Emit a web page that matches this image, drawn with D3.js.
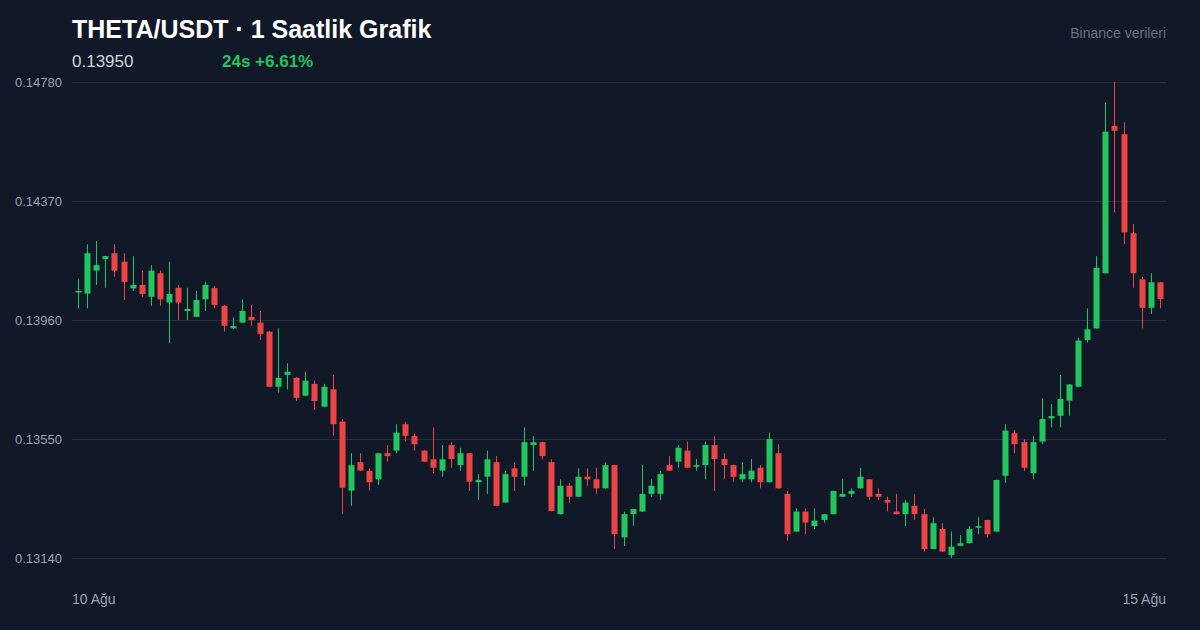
<!DOCTYPE html>
<html><head><meta charset="utf-8">
<script src="https://cdn.jsdelivr.net/npm/d3@7"></script>
<style>
html,body{margin:0;padding:0;background:#111827;}
svg{display:block;font-family:"Liberation Sans",Arial,Helvetica,sans-serif;}
</style></head>
<body><svg id="c" width="1200" height="630"></svg>
<script>
const title = "THETA/USDT · 1 Saatlik Grafik";
const lastPrice = "0.13950";
const change = "24s +6.61%";
const source = "Binance verileri";
const xLabels = ["10 Ağu", "15 Ağu"];
const yTicks = [0.13140, 0.13550, 0.13960, 0.14370, 0.14780];

const open = [
0.14055,0.14051,0.14130,0.14170,0.14190,0.14161,0.14069,0.14081,0.14040,0.14121,
0.14020,0.14071,0.13991,0.13971,0.14031,0.14070,0.14009,0.13931,0.13951,0.13971,
0.13951,0.13920,0.13730,0.13771,0.13761,0.13699,0.13740,0.13661,0.13721,0.13610,
0.13372,0.13470,0.13440,0.13411,0.13501,0.13510,0.13601,0.13560,0.13510,0.13480,
0.13441,0.13529,0.13460,0.13501,0.13401,0.13420,0.13470,0.13331,0.13449,0.13420,
0.13529,0.13539,0.13470,0.13291,0.13389,0.13351,0.13420,0.13411,0.13380,0.13460,
0.13211,0.13291,0.13300,0.13361,0.13361,0.13460,0.13472,0.13510,0.13454,0.13460,
0.13529,0.13481,0.13460,0.13411,0.13411,0.13451,0.13401,0.13501,0.13361,0.13231,
0.13300,0.13250,0.13271,0.13291,0.13351,0.13361,0.13380,0.13411,0.13361,0.13340,
0.13300,0.13291,0.13320,0.13291,0.13171,0.13240,0.13150,0.13182,0.13191,0.13244,
0.13271,0.13231,0.13423,0.13570,0.13539,0.13432,0.13541,0.13621,0.13630,0.13682,
0.13730,0.13891,0.13931,0.14121,0.14629,0.14600,0.14259,0.14100,0.14002,0.14090];

const high = [
0.14100,0.14221,0.14232,0.14181,0.14221,0.14190,0.14180,0.14130,0.14149,0.14130,
0.14161,0.14081,0.14071,0.14060,0.14092,0.14077,0.14012,0.13969,0.14031,0.14012,
0.13991,0.13922,0.13931,0.13811,0.13763,0.13782,0.13751,0.13740,0.13771,0.13619,
0.13501,0.13501,0.13449,0.13502,0.13529,0.13601,0.13610,0.13570,0.13511,0.13590,
0.13529,0.13539,0.13520,0.13502,0.13429,0.13510,0.13491,0.13440,0.13470,0.13590,
0.13560,0.13540,0.13480,0.13411,0.13399,0.13449,0.13449,0.13451,0.13470,0.13461,
0.13300,0.13310,0.13460,0.13411,0.13440,0.13491,0.13529,0.13541,0.13481,0.13541,
0.13560,0.13501,0.13461,0.13470,0.13481,0.13460,0.13572,0.13532,0.13371,0.13311,
0.13311,0.13311,0.13292,0.13372,0.13411,0.13380,0.13451,0.13412,0.13380,0.13351,
0.13361,0.13340,0.13361,0.13309,0.13280,0.13260,0.13231,0.13219,0.13250,0.13280,
0.13272,0.13410,0.13601,0.13581,0.13549,0.13560,0.13690,0.13670,0.13771,0.13739,
0.13899,0.14000,0.14180,0.14710,0.14780,0.14641,0.14291,0.14109,0.14121,0.14091];

const low = [
0.14000,0.14000,0.14081,0.14071,0.14109,0.14029,0.14060,0.14040,0.14009,0.14009,
0.13880,0.13960,0.13960,0.13970,0.13991,0.14000,0.13920,0.13929,0.13950,0.13940,
0.13891,0.13729,0.13710,0.13721,0.13681,0.13698,0.13650,0.13660,0.13561,0.13291,
0.13320,0.13440,0.13372,0.13392,0.13472,0.13501,0.13541,0.13510,0.13471,0.13432,
0.13420,0.13451,0.13441,0.13371,0.13340,0.13361,0.13319,0.13330,0.13371,0.13389,
0.13440,0.13480,0.13301,0.13290,0.13331,0.13350,0.13389,0.13361,0.13379,0.13171,
0.13181,0.13251,0.13299,0.13351,0.13340,0.13440,0.13451,0.13450,0.13441,0.13411,
0.13371,0.13411,0.13401,0.13401,0.13401,0.13380,0.13400,0.13379,0.13200,0.13230,
0.13222,0.13240,0.13262,0.13290,0.13350,0.13351,0.13379,0.13340,0.13340,0.13300,
0.13290,0.13250,0.13271,0.13162,0.13170,0.13161,0.13140,0.13181,0.13190,0.13222,
0.13210,0.13230,0.13399,0.13501,0.13440,0.13411,0.13532,0.13590,0.13590,0.13630,
0.13729,0.13882,0.13930,0.14120,0.14331,0.14221,0.14071,0.13931,0.13981,0.14000];

const close = [
0.14060,0.14190,0.14149,0.14180,0.14130,0.14091,0.14081,0.14050,0.14130,0.14031,
0.14050,0.14020,0.13998,0.14029,0.14081,0.14012,0.13940,0.13939,0.13991,0.13960,
0.13912,0.13730,0.13761,0.13782,0.13692,0.13751,0.13681,0.13730,0.13601,0.13382,
0.13460,0.13441,0.13401,0.13501,0.13491,0.13572,0.13561,0.13532,0.13472,0.13451,
0.13480,0.13481,0.13501,0.13403,0.13409,0.13480,0.13320,0.13429,0.13420,0.13539,
0.13539,0.13491,0.13302,0.13389,0.13351,0.13420,0.13411,0.13380,0.13460,0.13222,
0.13291,0.13309,0.13361,0.13389,0.13429,0.13441,0.13520,0.13451,0.13460,0.13529,
0.13481,0.13460,0.13420,0.13429,0.13441,0.13401,0.13550,0.13380,0.13222,0.13300,
0.13262,0.13269,0.13291,0.13371,0.13361,0.13371,0.13420,0.13351,0.13351,0.13331,
0.13291,0.13331,0.13291,0.13171,0.13260,0.13162,0.13179,0.13191,0.13240,0.13250,
0.13222,0.13409,0.13579,0.13532,0.13451,0.13539,0.13619,0.13629,0.13688,0.13738,
0.13889,0.13928,0.14140,0.14609,0.14612,0.14262,0.14121,0.14002,0.14090,0.14032];

(function () {
const W = 1200, H = 630;
const mL = 72, mR = 1166, mT = 82, mB = 558;
const UP = "#22c55e", DOWN = "#ef4444";

const svg = d3.select("#c");
svg.append("rect").attr("width", W).attr("height", H).attr("fill", "#111827");

const idx = d3.range(open.length);
const x = d3.scaleBand().domain(idx).range([mL, mR]).padding(0.35);
const y = d3.scaleLinear().domain([d3.min(yTicks), d3.max(yTicks)]).range([mB, mT]);

const yAxis = d3.axisLeft(y).tickValues(yTicks).tickFormat(d3.format(".5f"))
  .tickSize(-(mR - mL)).tickPadding(10);
const gy = svg.append("g").attr("transform", `translate(${mL},0)`).call(yAxis);
gy.select(".domain").remove();
gy.selectAll(".tick line").attr("stroke", "#253041").attr("stroke-width", 1);
gy.selectAll(".tick text").attr("fill", "#9ca3af").attr("font-size", 13)
  .attr("font-family", "'Liberation Sans',Arial,sans-serif");

const xl = svg.append("g");
xl.append("text").attr("x", mL).attr("y", 604).attr("fill", "#9ca3af")
  .attr("font-size", 14).text(xLabels[0]);
xl.append("text").attr("x", mR).attr("y", 604).attr("fill", "#9ca3af")
  .attr("font-size", 14).attr("text-anchor", "end").text(xLabels[1]);

const g = svg.append("g");
const cx = i => x(i) + x.bandwidth() / 2;
g.selectAll("line.w").data(idx).join("line").attr("class", "w")
  .attr("x1", i => Math.round(cx(i)) + 0.5).attr("x2", i => Math.round(cx(i)) + 0.5)
  .attr("y1", i => y(high[i])).attr("y2", i => y(low[i]))
  .attr("stroke", i => close[i] >= open[i] ? UP : DOWN).attr("stroke-width", 1);
g.selectAll("rect.b").data(idx).join("rect").attr("class", "b")
  .attr("x", i => Math.round(cx(i)) + 0.5 - 3)
  .attr("width", 6)
  .attr("y", i => y(Math.max(open[i], close[i])))
  .attr("height", i => Math.max(1.5, Math.abs(y(open[i]) - y(close[i]))))
  .attr("fill", i => close[i] >= open[i] ? UP : DOWN);

svg.append("text").attr("x", mL).attr("y", 38).attr("fill", "#ffffff")
  .attr("font-size", 25).attr("font-weight", "bold").text(title);
svg.append("text").attr("x", mL).attr("y", 67).attr("fill", "#d1d5db")
  .attr("font-size", 17).text(lastPrice);
svg.append("text").attr("x", 222).attr("y", 67).attr("fill", UP)
  .attr("font-size", 17).attr("font-weight", "bold").text(change);
svg.append("text").attr("x", mR).attr("y", 38).attr("fill", "#6b7280")
  .attr("font-size", 14).attr("text-anchor", "end").text(source);
})();
</script></body></html>
